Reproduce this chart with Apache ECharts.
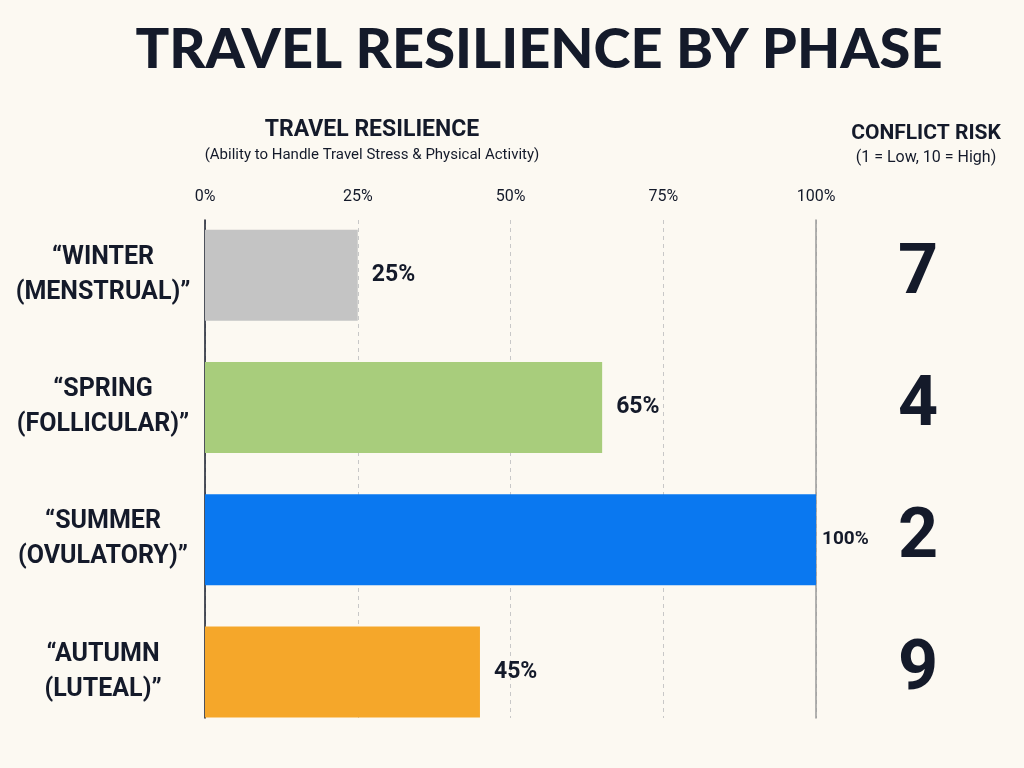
<!DOCTYPE html>
<html>
<head>
<meta charset="utf-8">
<script src="https://cdn.jsdelivr.net/npm/echarts@6/dist/echarts.min.js"></script>
<style>
html,body{margin:0;padding:0;background:#fcf9f2;}
#chart{width:1024px;height:768px;}
</style>
</head>
<body>
<div id="chart"></div>
<script>
// data
var phases = ['“WINTER\n(MENSTRUAL)”', '“SPRING\n(FOLLICULAR)”', '“SUMMER\n(OVULATORY)”', '“AUTUMN\n(LUTEAL)”'];
var resilience = [25, 65, 100, 45];
var conflictRisk = ['7', '4', '2', '9'];
var barColors = ['#c4c4c4', '#a8cd7c', '#0a78f0', '#f5a72a'];
var tickLabels = ['0%', '25%', '50%', '75%', '100%'];

var ink = '#141a2a';
var font = 'Roboto, sans-serif';

var barData = [];
for (var i = 0; i < resilience.length; i++) {
  var item = { value: resilience[i], itemStyle: { color: barColors[i] } };
  if (resilience[i] >= 100) {
    item.label = { fontSize: 19, distance: 6 };
  }
  barData.push(item);
}

var option = {
  backgroundColor: '#fcf9f2',
  title: [
    {
      text: 'TRAVEL RESILIENCE BY PHASE',
      left: 534, top: 17, textAlign: 'center',
      textStyle: { fontFamily: 'Lato', fontWeight: 900, fontSize: 56, color: ink }
    },
    {
      text: 'TRAVEL RESILIENCE',
      subtext: '(Ability to Handle Travel Stress & Physical Activity)',
      left: 367, top: 114, textAlign: 'center', itemGap: 6,
      textStyle: { fontFamily: font, fontWeight: 'bold', fontSize: 23, color: ink },
      subtextStyle: { fontFamily: font, fontSize: 15, color: ink }
    },
    {
      text: 'CONFLICT RISK',
      subtext: '(1 = Low, 10 = High)',
      left: 921, top: 118, textAlign: 'center', itemGap: 6,
      textStyle: { fontFamily: font, fontWeight: 'bold', fontSize: 21, color: ink },
      subtextStyle: { fontFamily: font, fontSize: 16, color: ink }
    }
  ],
  grid: [
    { left: 205, right: 208, top: 220, bottom: 50 },
    { left: 205, right: 208, top: 209, bottom: 30 }
  ],
  xAxis: [
    {
      gridIndex: 0, type: 'value', position: 'top', min: 0, max: 100, interval: 25,
      axisLine: { show: false }, axisTick: { show: false },
      axisLabel: {
        margin: 15, fontFamily: font, fontSize: 16, color: ink,
        formatter: function (v) { return tickLabels[v / 25]; }
      },
      splitLine: { show: true, lineStyle: { color: '#c8c8c8', type: [4, 4], width: 1 } }
    },
    { gridIndex: 1, type: 'value', min: 0, max: 100, show: false }
  ],
  yAxis: [
    {
      gridIndex: 0, type: 'category', data: phases, inverse: true,
      axisLine: { show: true, lineStyle: { color: ink, width: 1.5 } },
      axisTick: { show: false }, axisLabel: { show: false }
    },
    {
      gridIndex: 0, type: 'value', position: 'right', min: 0, max: 1,
      axisLine: { show: true, lineStyle: { color: '#9a9a9a', width: 1.5 } },
      axisTick: { show: false }, axisLabel: { show: false }, splitLine: { show: false }
    },
    {
      gridIndex: 1, type: 'category', data: phases, inverse: true,
      axisLine: { show: false }, axisTick: { show: false },
      axisLabel: {
        margin: 102, align: 'center', fontFamily: font, fontWeight: 'bold',
        fontSize: 25, lineHeight: 35, color: ink
      }
    },
    {
      gridIndex: 1, type: 'category', data: conflictRisk, inverse: true, position: 'right',
      axisLine: { show: false }, axisTick: { show: false },
      axisLabel: {
        margin: 102, align: 'center', fontFamily: font, fontWeight: 'bold',
        fontSize: 70, color: ink
      }
    }
  ],
  series: [
    {
      type: 'bar', xAxisIndex: 1, yAxisIndex: 2, data: barData, barWidth: 91,
      label: {
        show: true, position: 'right', distance: 14, formatter: '{c}%',
        fontFamily: font, fontWeight: 'bold', fontSize: 23, color: ink
      }
    }
  ]
};

var myChart = echarts.init(document.getElementById('chart'));
myChart.setOption(option);
</script>
</body>
</html>
